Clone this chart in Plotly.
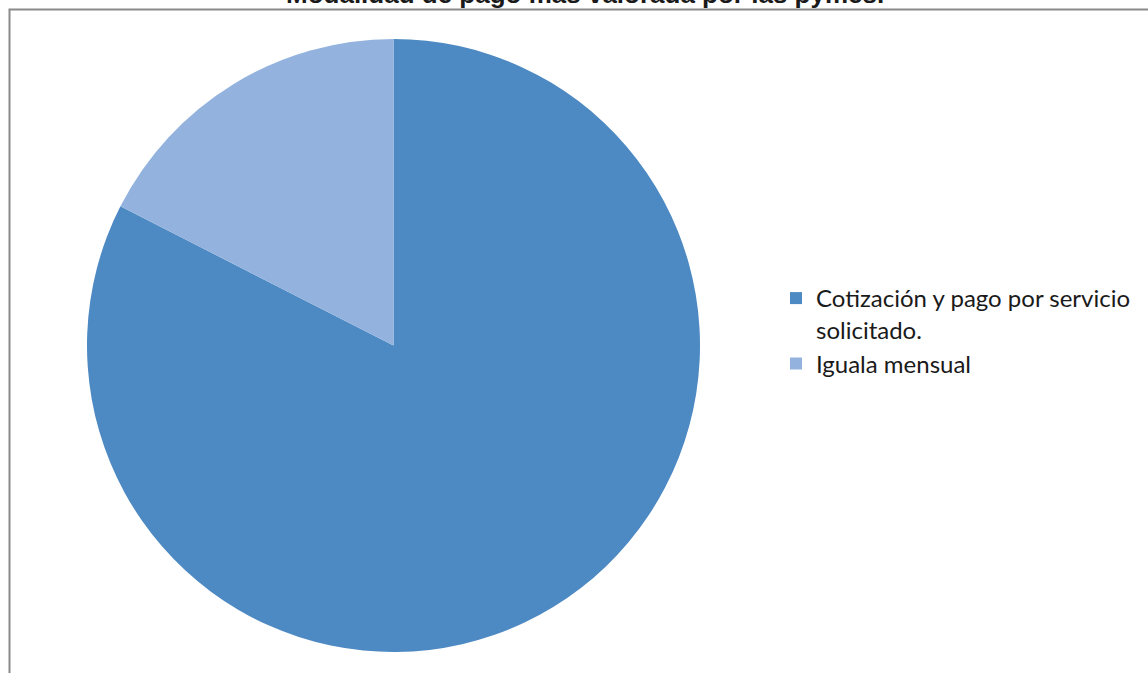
import plotly.graph_objects as go

# Survey answers: preferred payment model among SMEs
labels = ["Cotización y pago por servicio<br>solicitado.", "Iguala mensual"]
counts = [33, 7]
colors = ["#4d89c2", "#93b3de"]

W, H = 1148, 673

fig = go.Figure(
    go.Pie(
        labels=labels,
        values=counts,
        sort=False,
        direction="clockwise",
        rotation=0,
        textinfo="none",
        hoverinfo="label+value+percent",
        marker=dict(colors=colors, line=dict(width=0)),
        domain=dict(x=[87 / W, 700 / W], y=[1 - 652 / H, 1 - 39 / H]),
    )
)

# Chart frame
fig.add_shape(
    type="rect", xref="paper", yref="paper",
    x0=9.5 / W, x1=1.05, y0=-0.05, y1=1 - 9.5 / H,
    line=dict(color="#8a8a8a", width=2),
    layer="below",
)

# Title
fig.add_annotation(
    text="<b>Modalidad de pago más valorada por las pymes.</b>",
    xref="paper", yref="paper", x=585 / W, y=1 + 6 / H,
    xanchor="center", yanchor="middle", showarrow=False,
    font=dict(family="Liberation Sans, Arial", size=26, color="#1a1a1a"),
)

fig.update_layout(
    width=W, height=H,
    margin=dict(l=0, r=0, t=0, b=0),
    paper_bgcolor="white",
    plot_bgcolor="white",
    showlegend=True,
    legend=dict(
        x=776 / W, y=1 - 276 / H, xanchor="left", yanchor="top",
        font=dict(family="Lato, Carlito, sans-serif", size=24, color="#1a1a1a"),
        valign="top",
        bgcolor="rgba(0,0,0,0)",
    ),
)

fig.write_html("out.html")
